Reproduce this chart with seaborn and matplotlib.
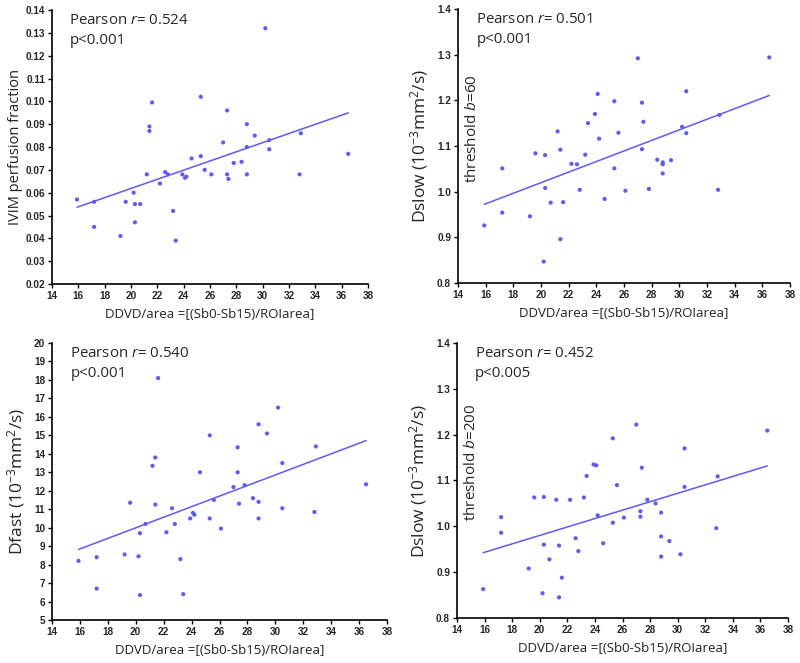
import matplotlib
matplotlib.use("Agg")
import matplotlib.pyplot as plt
import seaborn as sns
import numpy as np
import pandas as pd

# DDVD/area (shared by all four panels)
ddvd = [15.9, 17.2, 17.2, 19.2, 19.6, 20.2, 20.3, 20.3, 20.7, 21.2, 21.4, 21.4,
        21.6, 22.2, 22.6, 22.8, 23.2, 23.4, 23.9, 24.1, 24.2, 24.6, 25.3, 25.3,
        25.6, 26.1, 27.0, 27.3, 27.3, 27.4, 27.8, 28.4, 28.8, 28.8, 28.8, 29.4,
        30.2, 30.5, 30.5, 32.8, 32.9, 36.5]

pf = [0.057, 0.056, 0.045, 0.041, 0.056, 0.060, 0.055, 0.047, 0.055, 0.068, 0.087, 0.089,
      0.0995, 0.064, 0.069, 0.068, 0.052, 0.039, 0.068, 0.0665, 0.067, 0.075, 0.102, 0.076,
      0.070, 0.068, 0.082, 0.096, 0.068, 0.066, 0.073, 0.0735, 0.090, 0.080, 0.068, 0.085,
      0.132, 0.083, 0.079, 0.068, 0.086, 0.077]

dslow60 = [0.926, 1.051, 0.954, 0.946, 1.084, 0.847, 1.080, 1.008, 0.976, 1.132, 1.092, 0.896,
           0.977, 1.061, 1.060, 1.004, 1.081, 1.150, 1.170, 1.214, 1.116, 0.984, 1.198, 1.051,
           1.129, 1.002, 1.292, 1.195, 1.093, 1.153, 1.006, 1.070, 1.064, 1.060, 1.040, 1.069,
           1.142, 1.220, 1.128, 1.004, 1.168, 1.294]

dfast = [8.2, 8.4, 6.7, 8.55, 11.35, 8.45, 9.7, 6.35, 10.2, 13.35, 13.8, 11.25,
         18.1, 9.75, 11.05, 10.2, 8.3, 6.4, 10.5, 10.8, 10.7, 13.0, 15.0, 10.5,
         11.5, 9.95, 12.2, 14.35, 13.0, 11.3, 12.3, 11.6, 15.6, 11.4, 10.5, 15.1,
         16.5, 13.5, 11.05, 10.85, 14.4, 12.35]

dslow200 = [0.863, 1.020, 0.986, 0.908, 1.063, 0.854, 1.064, 0.960, 0.928, 1.058, 0.958, 0.845,
            0.888, 1.058, 0.974, 0.946, 1.063, 1.110, 1.135, 1.133, 1.024, 0.963, 1.192, 1.008,
            1.090, 1.019, 1.222, 1.033, 1.021, 1.128, 1.058, 1.050, 1.030, 0.978, 0.934, 0.968,
            0.939, 1.170, 1.086, 0.996, 1.109, 1.209]

stats = ["Pearson $r$= 0.524\np<0.001", "Pearson $r$= 0.501\np<0.001",
         "Pearson $r$= 0.540\np<0.001", "Pearson $r$= 0.452\np<0.005"]

sns.set_style("ticks")
plt.rcParams['font.family'] = ['Open Sans', 'DejaVu Sans']
plt.rcParams['mathtext.fontset'] = 'custom'
plt.rcParams['mathtext.rm'] = 'Open Sans'
plt.rcParams['mathtext.it'] = 'Open Sans:italic'

blue = "#5a5aff"
fig = plt.figure(figsize=(8, 6.63), dpi=100)
W, H = 800, 663

def make_ax(l, t, r, b):
    return fig.add_axes([l / W, 1 - b / H, (r - l) / W, (b - t) / H])

panels = [
    dict(rect=(52, 10, 368, 284), y=pf, ylim=(0.02, 0.14), step=0.01, fmt="{:.2f}", txt=stats[0]),
    dict(rect=(458, 9, 790, 283), y=dslow60, ylim=(0.8, 1.4), step=0.1, fmt="{:.1f}", txt=stats[1]),
    dict(rect=(52, 343, 387, 620), y=dfast, ylim=(5, 20), step=1, fmt="{:.0f}", txt=stats[2]),
    dict(rect=(457, 343, 788, 618), y=dslow200, ylim=(0.8, 1.4), step=0.1, fmt="{:.1f}", txt=stats[3]),
]

for i, p in enumerate(panels):
    ax = make_ax(*p["rect"])
    df = pd.DataFrame({"x": ddvd, "y": p["y"]})
    sns.regplot(data=df, x="x", y="y", ax=ax, scatter=False, ci=None, truncate=True,
                line_kws=dict(color=blue, lw=1.1))
    sns.scatterplot(data=df, x="x", y="y", ax=ax, color=blue, s=9, edgecolor="none", zorder=3)
    ax.set_xlim(14, 38)
    ax.set_ylim(*p["ylim"])
    ax.set_xticks(np.arange(14, 39, 2))
    yt = np.arange(p["ylim"][0], p["ylim"][1] + p["step"] / 2, p["step"])
    ax.set_yticks(yt)
    ax.set_yticklabels([p["fmt"].format(v) for v in yt])
    for lab in ax.get_xticklabels() + ax.get_yticklabels():
        lab.set_family("Liberation Sans")
        lab.set_fontweight("bold")
        lab.set_fontsize(7.2)
    ax.tick_params(direction="out", length=3, width=1, color="black", pad=2)
    sns.despine(ax=ax)
    for s in ["left", "bottom"]:
        ax.spines[s].set_linewidth(1.2)
        ax.spines[s].set_color("black")
    ax.set_xlabel("DDVD/area =[(Sb0-Sb15)/ROIarea]", fontsize=9.5, labelpad=5, color="#222222")
    ax.text(0.055, 0.99, p["txt"], transform=ax.transAxes, fontsize=10.8,
            va="top", ha="left", linespacing=1.5)
    if i == 0:
        ax.set_ylabel("IVIM perfusion fraction", fontsize=10.5, labelpad=2, color="#222222")
    elif i == 2:
        ax.set_ylabel("Dfast (10$^{-3}$mm$^2$/s)", fontsize=12.5, labelpad=5)
    else:
        ax.set_ylabel("Dslow (10$^{-3}$mm$^2$/s)", fontsize=12.5, labelpad=5)
        b = "60" if i == 1 else "200"
        ax.text(0.045, 0.565, "threshold $b$=" + b, transform=ax.transAxes, rotation=90,
                fontsize=11, ha="center", va="center")

fig.savefig("out.png", dpi=100)
